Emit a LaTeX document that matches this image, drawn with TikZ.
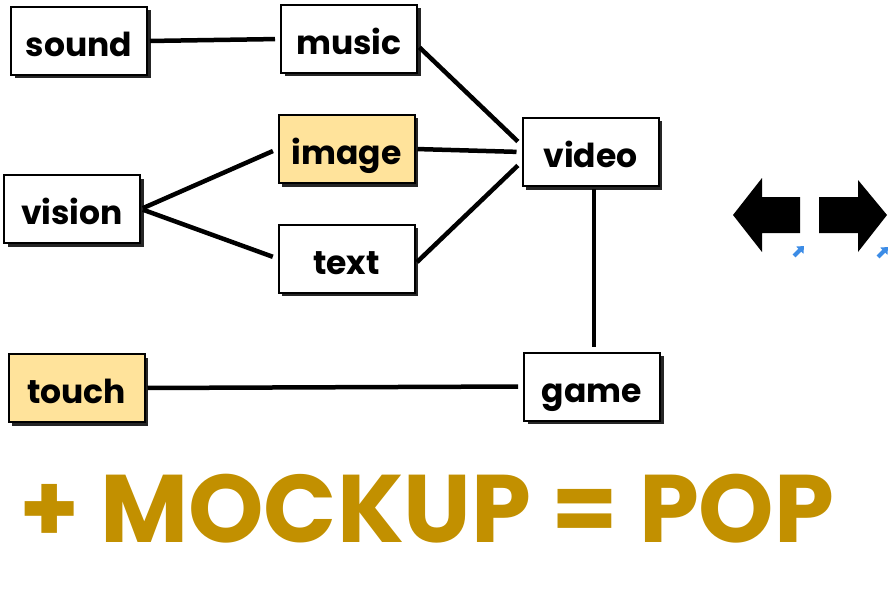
\documentclass[tikz,border=0pt]{standalone}
\usepackage{fontspec}
\setmainfont{Poppins}
\usetikzlibrary{shadows,arrows.meta}
\definecolor{pale}{RGB}{255,227,155}
\definecolor{gold}{RGB}{194,144,0}
\definecolor{cursor}{RGB}{60,140,230}

\begin{document}
\begin{tikzpicture}[x=1pt,y=-1pt,
  box/.style={draw,line width=2pt,fill=white,minimum width=136pt,minimum height=68pt,inner sep=0pt,
    text height=34pt,text depth=3pt,font=\fontsize{33}{36}\selectfont\bfseries,
    drop shadow={shadow xshift=3.5pt,shadow yshift=-3.5pt,fill=black!85,opacity=1}},
  hilite/.style={box,fill=pale},
  link/.style={line width=4.5pt,shorten <=2pt,shorten >=5pt}]

  \useasboundingbox (0,0) rectangle (890,596);

  % Boxes
  \node[box] (sound) at (79,41) {sound};
  \node[box] (music) at (349,39) {music};
  \node[hilite] (image) at (346.5,149) {image};
  \node[box] (vision) at (72,209) {vision};
  \node[box] (text) at (346.5,258.5) {text};
  \node[box] (video) at (590.5,152) {video};
  \node[hilite] (touch) at (76.5,388) {touch};
  \node[box] (game) at (592,386.5) {game};

  % Links
  \draw[link] (sound.east) -- (music.west);
  \draw[link] ([yshift=-7pt]music.east) -- ([yshift=7pt]video.west);
  \draw[link] (image.east) -- (video.west);
  \draw[link] ([yshift=-5pt]text.east) -- ([yshift=-10pt]video.west);
  \draw[link] (vision.east) -- (image.west);
  \draw[link] (vision.east) -- (text.west);
  \draw[link] ([xshift=3.5pt]video.south) -- ([xshift=2pt]game.north);
  \draw[link] (touch.east) -- (game.west);

  % Block arrows
  \fill (733,215) -- (762,178) -- (762,197) -- (800,197) -- (800,233) -- (762,233) -- (762,252) -- cycle;
  \fill (887,215) -- (858,180) -- (858,197) -- (819,197) -- (819,233) -- (858,233) -- (858,252) -- cycle;
  \draw[cursor,line width=4pt,-{Triangle[length=6pt,width=10pt]}] (794,256) -- (804,246);
  \draw[cursor,line width=4pt,-{Triangle[length=6pt,width=10pt]}] (878,257) -- (888,247);

  % Slogan
  \node[gold,anchor=base,font=\fontsize{96}{96}\selectfont\bfseries] (slogan) at (427,542) {+ MOCKUP = POP};

\end{tikzpicture}
\end{document}
